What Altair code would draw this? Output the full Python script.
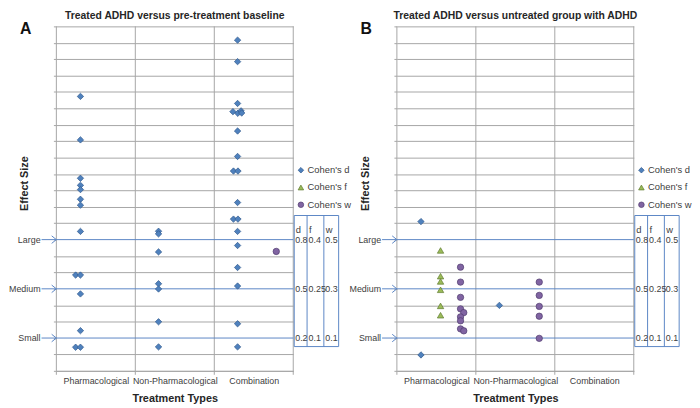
import altair as alt
import pandas as pd

FONT = "Liberation Sans"
GRID = "#A6A6A6"
BLUE = "#5B86C5"
TXT = "#404040"

measures = ["Cohen's d", "Cohen's f", "Cohen's w"]
fills = ["#4F81BD", "#9BBB59", "#8064A2"]
strokes = ["#30598C", "#5E7A2E", "#4E3A6E"]
shapes = ["diamond", "triangle-up", "circle"]

categories = ["Pharmacological", "Non-Pharmacological", "Combination"]
cat_centers = [0.5, 1.5, 2.5]
band_edges = [0, 1, 2, 3]

levels = ["Large", "Medium", "Small"]
d_thr = [0.8, 0.5, 0.2]
d_txt = ["0.8", "0.5", "0.2"]
f_txt = ["0.4", "0.25", "0.1"]
w_txt = ["0.5", "0.3", "0.1"]

# ---- Panel A: treated vs pre-treatment baseline ----
a_d_x = [0.305, 0.305, 0.305, 0.305, 0.305, 0.305, 0.305, 0.305, 0.244, 0.305, 0.305, 0.305, 0.244, 0.305,
         1.294, 1.294, 1.294, 1.294, 1.294, 1.294, 1.294,
         2.295, 2.295, 2.295, 2.236, 2.298, 2.339, 2.347, 2.295, 2.295, 2.243, 2.300, 2.295, 2.243, 2.300,
         2.295, 2.295, 2.295, 2.295, 2.295, 2.295]
a_d_y = [1.673, 1.408, 1.174, 1.131, 1.105, 1.046, 1.010, 0.850, 0.584, 0.584, 0.469, 0.245, 0.144, 0.144,
         0.851, 0.835, 0.725, 0.531, 0.499, 0.299, 0.146,
         2.016, 1.885, 1.630, 1.580, 1.570, 1.585, 1.572, 1.462, 1.307, 1.218, 1.218, 1.026, 0.925, 0.925,
         0.850, 0.764, 0.630, 0.517, 0.287, 0.146]
a_w_x = [2.785]
a_w_y = [0.728]

# ---- Panel B: treated vs untreated ----
b_d_x = [0.305, 0.305, 1.298]
b_d_y = [0.910, 0.097, 0.399]
b_f_x = [0.553, 0.553, 0.553, 0.553, 0.553, 0.553]
b_f_y = [0.734, 0.577, 0.545, 0.494, 0.396, 0.339]
b_w_x = [0.806, 0.806, 0.806, 0.806, 0.847, 0.806, 0.806, 0.806, 0.847,
         1.803, 1.803, 1.803, 1.803, 1.803]
b_w_y = [0.632, 0.541, 0.448, 0.378, 0.355, 0.329, 0.305, 0.256, 0.244,
         0.541, 0.460, 0.393, 0.333, 0.198]

W, H = 240, 349
YMAX = 2.1
y_ticks = [round(i * 0.1, 1) for i in range(22)]


def ypix(v):
    return H * (1 - v / YMAX)


def pts(xs, ys, m):
    return pd.DataFrame({"x": xs, "y": ys, "measure": m})


xscale = alt.Scale(domain=[0, 3], nice=False, zero=False)
yscale = alt.Scale(domain=[0, YMAX], nice=False)

cat_expr = " : ".join(
    f"datum.value == {c} ? '{n}'" for c, n in zip(cat_centers, categories)
) + " : ''"
ref_test = " || ".join(f"abs(datum.value - {v}) < 0.01" for v in d_thr)

ref_df = pd.DataFrame({"level": levels, "d": d_thr, "dt": d_txt, "ft": f_txt, "wt": w_txt})
edge_df = pd.DataFrame({"edge": band_edges})
one = pd.DataFrame({"k": [0]})

X_AXIS = alt.Axis(
    values=cat_centers, labelExpr=cat_expr, ticks=False, tickSize=0, grid=False,
    domain=True, domainColor=GRID, labelFont=FONT, labelFontSize=9, labelColor=TXT,
    labelPadding=6, labelFlush=False, labelOverlap=False, labelBound=False,
    title="Treatment Types", titleFont=FONT, titleFontSize=11, titleFontWeight="bold",
    titleColor="#262626", titlePadding=7)
Y_AXIS = alt.Axis(
    values=y_ticks, labels=False, grid=True, gridColor=GRID, gridWidth=1,
    gridOpacity={"condition": {"test": ref_test, "value": 0}, "value": 1},
    ticks=True, tickSize=3, tickColor=GRID, domain=False,
    title="Effect Size", titleFont=FONT, titleFontSize=11, titleFontWeight="bold",
    titleColor="#262626", titleX=-32, titleY=0.455 * H, titleAngle=-90,
    titleAlign="center", titleBaseline="middle")


def panel(letter, title, df):
    leg = alt.Legend(
        title=None, orient="none", legendX=W + 3, legendY=141, padding=0,
        labelFont=FONT, labelFontSize=9.5, labelColor=TXT, symbolSize=32,
        rowPadding=6.5, labelOffset=2, symbolStrokeWidth=0.7,
    )
    x_enc = alt.X("x:Q", scale=xscale, axis=X_AXIS)
    y_enc = alt.Y("y:Q", scale=yscale, axis=Y_AXIS)

    edges = alt.Chart(edge_df).mark_rule(color=GRID, strokeWidth=1).encode(
        x=alt.X("edge:Q", scale=xscale, axis=X_AXIS), y=alt.value(0), y2=alt.value(H + 4))

    yref = alt.Y("d:Q", scale=yscale, axis=Y_AXIS)
    ref_lines = alt.Chart(ref_df).mark_rule(color=BLUE, strokeWidth=1).encode(
        y=yref, x=alt.value(-15), x2=alt.value(W))
    ref_heads = alt.Chart(ref_df).mark_point(
        shape="M-1,-0.8L0,0L-1,0.8", filled=False, size=90, color=BLUE, strokeWidth=1, opacity=1
    ).encode(y=yref, x=alt.value(0))
    ref_labels = alt.Chart(ref_df).mark_text(
        align="right", baseline="middle", font=FONT, fontSize=9, color=TXT
    ).encode(y=yref, x=alt.value(-16), text="level:N")

    box = alt.Chart(one).mark_rect(fillOpacity=0, stroke=BLUE, strokeWidth=1).encode(
        x=alt.value(W + 1), x2=alt.value(W + 46), y=alt.value(ypix(0.947)), y2=alt.value(ypix(0.148)))
    seps = [
        alt.Chart(one).mark_rule(color=BLUE, strokeWidth=1).encode(
            x=alt.value(W + xo), y=alt.value(ypix(0.947)), y2=alt.value(ypix(0.148)))
        for xo in (14, 31)
    ]
    tcols = []
    for xo, fld, head in ((2, "dt", "d"), (15.5, "ft", "f"), (32.5, "wt", "w")):
        tcols.append(alt.Chart(ref_df).mark_text(
            align="left", baseline="middle", font=FONT, fontSize=9, color=TXT
        ).encode(y=yref, x=alt.value(W + xo), text=f"{fld}:N"))
        tcols.append(alt.Chart(one).mark_text(
            align="left", baseline="middle", font=FONT, fontSize=9.5, color=TXT, text=head
        ).encode(x=alt.value(W + xo + 0.5), y=alt.value(ypix(0.86))))

    letter_mark = alt.Chart(one).mark_text(
        text=letter, font=FONT, fontSize=16, fontWeight="bold", color="#111111",
        align="center", baseline="middle").encode(x=alt.value(-31), y=alt.value(3))

    points = alt.Chart(df).mark_point(filled=True, size=42, strokeWidth=0.7, opacity=1).encode(
        x=x_enc, y=y_enc,
        color=alt.Color("measure:N", scale=alt.Scale(domain=measures, range=fills), legend=leg),
        stroke=alt.Stroke("measure:N", scale=alt.Scale(domain=measures, range=strokes), legend=leg),
        shape=alt.Shape("measure:N", scale=alt.Scale(domain=measures, range=shapes), legend=leg),
    )

    return alt.layer(
        edges, ref_lines, ref_heads, ref_labels, box, *seps, *tcols, letter_mark, points
    ).properties(
        width=W, height=H,
        title=alt.TitleParams(text=title, font=FONT, fontSize=10.5, fontWeight="bold",
                              color="#262626", anchor="middle", offset=0),
    )


dfA = pd.concat([pts(a_d_x, a_d_y, measures[0]), pts(a_w_x, a_w_y, measures[2])], ignore_index=True)
dfB = pd.concat([pts(b_d_x, b_d_y, measures[0]), pts(b_f_x, b_f_y, measures[1]),
                 pts(b_w_x, b_w_y, measures[2])], ignore_index=True)

chart = alt.hconcat(
    panel("A", "Treated ADHD versus pre-treatment baseline", dfA),
    panel("B", "Treated ADHD versus untreated group with ADHD", dfB),
    spacing=105, bounds="flush",
).resolve_scale(color="independent", stroke="independent", shape="independent").properties(
    padding={"left": 0, "right": 0, "top": 0, "bottom": 0}, background="white"
).configure_view(stroke=None)

chart.save("out.html", embed_options={"renderer": "svg", "actions": False})
